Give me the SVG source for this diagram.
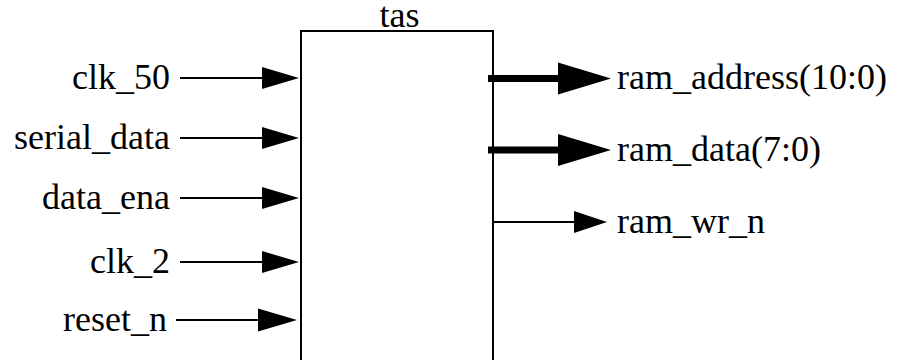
<svg xmlns="http://www.w3.org/2000/svg" width="900" height="360" viewBox="0 0 900 360">
  <defs>
    <style>
      text { font-family: 'Times New Roman', 'Liberation Serif', Times, serif; font-size: 36px; fill: #000; }
      .in { text-anchor: end; }
      .out { text-anchor: start; }
      .wire { stroke: #000; stroke-width: 2; fill: none; }
      .bus { stroke: #000; stroke-width: 7; fill: none; }
      .head { fill: #000; stroke: none; }
      .block { fill: #fff; stroke: #000; stroke-width: 2; }
    </style>
  </defs>
  <rect width="900" height="360" fill="#fff"/>

  <!-- entity block -->
  <g id="tas">
    <rect class="block" x="301" y="31" width="192" height="340"/>
    <text x="399.5" y="27" text-anchor="middle">tas</text>
  </g>

  <!-- port labels -->
  <g id="clk_50"><text class="in" x="170" y="89">clk_50</text></g>
  <g id="serial_data"><text class="in" x="170" y="149">serial_data</text></g>
  <g id="data_ena"><text class="in" x="170" y="209">data_ena</text></g>
  <g id="clk_2"><text class="in" x="170" y="273">clk_2</text></g>
  <g id="reset_n"><text class="in" x="167" y="331">reset_n</text></g>
  <g id="ram_address"><text class="out" x="617" y="89">ram_address(10:0)</text></g>
  <g id="ram_data"><text class="out" x="617" y="161">ram_data(7:0)</text></g>
  <g id="ram_wr_n"><text class="out" x="617" y="233">ram_wr_n</text></g>

  <!-- signal connectors -->
  <g id="connectors">
    <!-- inputs -->
    <line class="wire" x1="180" y1="78" x2="264" y2="78"/>
    <polygon class="head" points="262,67 299,78 262,89"/>
    <line class="wire" x1="180" y1="138" x2="264" y2="138"/>
    <polygon class="head" points="262,127 299,138 262,149"/>
    <line class="wire" x1="180" y1="198" x2="264" y2="198"/>
    <polygon class="head" points="262,187 299,198 262,209"/>
    <line class="wire" x1="180" y1="262" x2="264" y2="262"/>
    <polygon class="head" points="262,251 299,262 262,273"/>
    <line class="wire" x1="176" y1="320" x2="260" y2="320"/>
    <polygon class="head" points="258,308.5 297,320 258,331.5"/>

    <!-- outputs -->
    <line class="bus" x1="488" y1="78.5" x2="560" y2="78.5"/>
    <polygon class="head" points="558,62.5 611,78.5 558,94.5"/>
    <line class="bus" x1="488" y1="150" x2="560" y2="150"/>
    <polygon class="head" points="558,134 611,150 558,166"/>
    <line class="wire" x1="493" y1="222" x2="576" y2="222"/>
    <polygon class="head" points="574,211 607,222 574,233"/>
  </g>
</svg>
